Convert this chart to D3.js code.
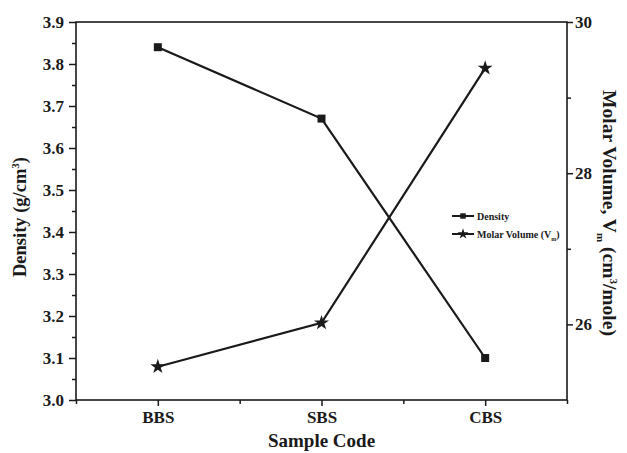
<!DOCTYPE html>
<html><head><meta charset="utf-8">
<script src="https://cdn.jsdelivr.net/npm/d3@7/dist/d3.min.js"></script>
<style>
body{margin:0;background:#fff;}
text{font-family:"Liberation Serif","Times New Roman",serif;font-weight:bold;fill:#1a1a1a;}
</style></head><body>
<svg id="c" width="627" height="453"></svg>
<script>
const categories = ["BBS","SBS","CBS"];
const density = [3.84, 3.67, 3.10];
const molarVolume = [25.44, 26.02, 29.39];
const leftTicks = [3.0,3.1,3.2,3.3,3.4,3.5,3.6,3.7,3.8,3.9];
const rightTicks = [26,28,30];

const svg = d3.select("#c");
const L=76, R=567, T=22, B=400;
const col="#1a1a1a";
const x = d3.scaleLinear().domain([0.5,3.5]).range([L,R]);
const yL = d3.scaleLinear().domain([3.0,3.9]).range([B,T]);
const yR = d3.scaleLinear().domain([25,30]).range([B,T]);

svg.append("rect").attr("x",L).attr("y",T).attr("width",R-L).attr("height",B-T)
  .attr("fill","none").attr("stroke",col).attr("stroke-width",1.6);

svg.append("g").attr("transform",`translate(${L},0)`)
  .call(d3.axisLeft(yL).tickValues(leftTicks).tickFormat(d3.format(".1f")).tickSize(7).tickPadding(5));
svg.append("g").attr("transform",`translate(${L},0)`)
  .call(d3.axisLeft(yL).tickValues(d3.range(3.05,3.9,0.1)).tickFormat("").tickSize(4));
svg.append("g").attr("transform",`translate(${R},0)`)
  .call(d3.axisRight(yR).tickValues(rightTicks).tickFormat(d3.format("d")).tickSize(6).tickPadding(2));
svg.append("g").attr("transform",`translate(${R},0)`)
  .call(d3.axisRight(yR).tickValues([27,29]).tickFormat("").tickSize(4));
svg.append("g").attr("transform",`translate(0,${B})`)
  .call(d3.axisBottom(x).tickValues([1,2,3]).tickFormat((d,i)=>categories[i]).tickSize(6).tickPadding(5));
svg.append("g").attr("transform",`translate(0,${B})`)
  .call(d3.axisBottom(x).tickValues([0.5,1.5,2.5,3.5]).tickFormat("").tickSize(4));

svg.selectAll(".domain").remove();
svg.selectAll(".tick line").attr("stroke",col).attr("stroke-width",1.5);
svg.selectAll(".tick text").attr("font-size",17).attr("fill",col)
  .attr("font-family","Liberation Serif").attr("font-weight","bold");

svg.append("text").attr("x",L+(R-L)/2).attr("y",447).attr("text-anchor","middle")
  .attr("font-size",19).text("Sample Code");
const lt = svg.append("text").attr("transform",`translate(26,${(T+B)/2+6}) rotate(-90)`)
  .attr("text-anchor","middle").attr("font-size",18.5);
lt.append("tspan").text("Density (g/cm");
lt.append("tspan").attr("dy",-7).attr("font-size",11).text("3");
lt.append("tspan").attr("dy",7).text(")");
const rt = svg.append("text").attr("transform",`translate(603,${(T+B)/2+2}) rotate(90)`)
  .attr("text-anchor","middle").attr("font-size",19.5);
rt.append("tspan").text("Molar Volume, V");
rt.append("tspan").attr("dy",6).attr("font-size",11).text("m");
rt.append("tspan").attr("dy",-6).text(" (cm");
rt.append("tspan").attr("dy",-7).attr("font-size",11).text("3");
rt.append("tspan").attr("dy",7).text("/mole)");

const idx = categories.map((c,i)=>i+1);
const lineD = d3.line().x((d,i)=>x(idx[i])).y(d=>yL(d));
const lineM = d3.line().x((d,i)=>x(idx[i])).y(d=>yR(d));
svg.append("path").datum(density).attr("d",lineD).attr("fill","none").attr("stroke",col).attr("stroke-width",2.2);
svg.append("path").datum(molarVolume).attr("d",lineM).attr("fill","none").attr("stroke",col).attr("stroke-width",2.2);
const sq = d3.symbol().type(d3.symbolSquare).size(64);
const st = d3.symbol().type(d3.symbolStar).size(70);
svg.selectAll(".sq").data(density).enter().append("path")
  .attr("d",sq).attr("transform",(d,i)=>`translate(${x(idx[i])},${yL(d)})`).attr("fill",col);
svg.selectAll(".st").data(molarVolume).enter().append("path")
  .attr("d",st).attr("transform",(d,i)=>`translate(${x(idx[i])},${yR(d)})`).attr("fill",col);

const lgx=452, lgy=216;
const lg = svg.append("g").attr("transform",`translate(${lgx},${lgy})`);
[["Density"],["Molar Volume (V"]].forEach((e,i)=>{
  const g = lg.append("g").attr("transform",`translate(0,${i*18})`);
  g.append("line").attr("x1",0).attr("x2",22).attr("y1",0).attr("y2",0).attr("stroke",col).attr("stroke-width",2);
  g.append("path").attr("d",i==0?d3.symbol().type(d3.symbolSquare).size(30)():d3.symbol().type(d3.symbolStar).size(36)())
    .attr("transform","translate(11,0)").attr("fill",col);
  const t = g.append("text").attr("x",25).attr("y",4).attr("font-size",10).text(e[0]);
  if(i==1){ t.append("tspan").attr("dy",3).attr("font-size",6).text("m");
            t.append("tspan").attr("dy",-3).text(")"); }
});
</script>
</body></html>
